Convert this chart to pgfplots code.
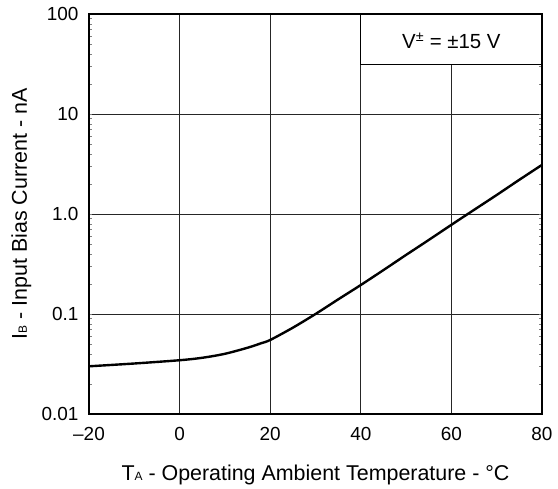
\documentclass[border=0pt]{standalone}
\usepackage{fontspec}
\setmainfont{Liberation Sans}
\usepackage{pgfplots}
\pgfplotsset{compat=1.18}

\begin{document}
\begin{tikzpicture}
\begin{axis}[
  name=ax,
  scale only axis,
  width=453bp, height=400bp,
  ymode=log,
  xmin=-20, xmax=80, ymin=0.01, ymax=100,
  xtick={-20,0,20,40,60,80},
  xticklabels={\textendash20,0,20,40,60,80},
  ytick={0.01,0.1,1,10,100},
  yticklabels={0.01,0.1,1.0,10,100},
  minor ytick={}, yminorgrids=false,
  major tick length=0pt,
  tick label style={font=\fontsize{19}{22}\selectfont},
  /pgf/number format/assume math mode=true,
  grid=major,
  major grid style={black!85, line width=0.8pt},
  axis line style={black, line width=2.4pt},
  every axis x label/.style={at={(axis description cs:0.5,0)}, anchor=base, yshift=-66bp,
    font=\fontsize{21.5}{24}\selectfont},
  every axis y label/.style={at={(axis description cs:0,0.5)}, xshift=-62bp, rotate=90, anchor=base,
    font=\fontsize{21.5}{24}\selectfont},
  xlabel={T{\fontsize{12}{13}\selectfont A} - Operating Ambient Temperature - \textdegree C},
  ylabel={I{\fontsize{12}{13}\selectfont B} - Input Bias Current - nA},
  xticklabel style={anchor=base, yshift=-26bp},
  yticklabel style={anchor=east, xshift=-7bp},
  clip=false,
]
\addplot[black, line width=2.4pt, smooth] coordinates {
  (-20,0.030) (-10,0.032) (0,0.0345) (5,0.0365) (10,0.040) (15,0.046)
  (18,0.051) (20,0.055) (25,0.073) (30,0.100) (35,0.140) (40,0.195)
  (45,0.275) (50,0.39) (55,0.55) (60,0.78) (65,1.1) (70,1.55)
  (75,2.2) (80,3.1)
};
\draw[black, line width=0.9pt, fill=white] (axis cs:40,31.6) rectangle (axis cs:80,100);
\node[font=\fontsize{20.5}{23}\selectfont] at (axis cs:60,54) {V\textsuperscript{±} = ±15 V};
\draw[black, line width=2.4pt] (rel axis cs:0,0) rectangle (rel axis cs:1,1);
\end{axis}
\pgfresetboundingbox
\path[use as bounding box] ([shift={(-89bp,-74bp)}]ax.south west) rectangle ([shift={(16bp,14bp)}]ax.north east);
\end{tikzpicture}
\end{document}
